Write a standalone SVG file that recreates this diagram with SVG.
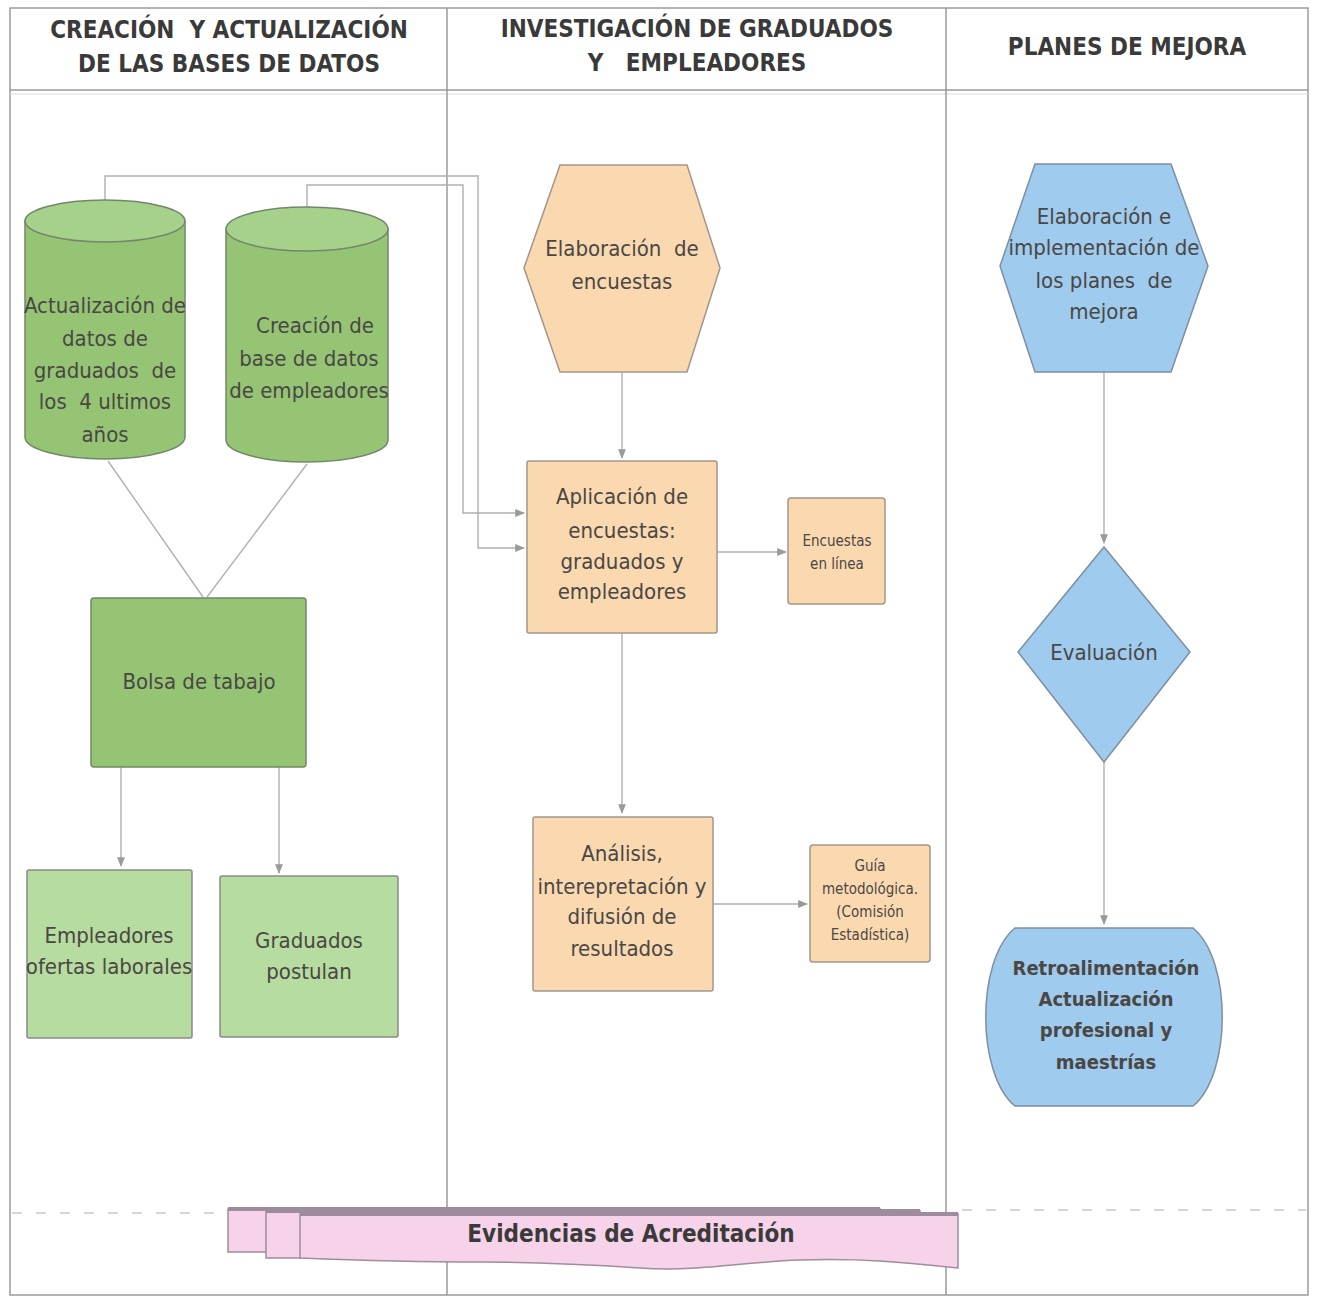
<svg xmlns="http://www.w3.org/2000/svg" width="1317" height="1298" viewBox="0 0 1317 1298">
<defs>
<style>
.t{font-family:"Liberation Sans Narrow","DejaVu Sans Condensed","Liberation Sans",sans-serif;fill:#4a4744;text-anchor:middle}
.h{font-size:24px;font-weight:bold;fill:#3a3a3a}
.n{font-size:22px}
.s{font-size:15px}
.b{font-weight:bold}
.frame{fill:none;stroke:#9a9a9a;stroke-width:1.5}
.c{fill:none;stroke:#b0b0b0;stroke-width:1.4}
.green{fill:#95c574;stroke:#74866a;stroke-width:1.5}
.gtop{fill:#a6d18a;stroke:#74866a;stroke-width:1.5}
.lgreen{fill:#b6dc9f;stroke:#8a8a8a;stroke-width:1.5}
.peach{fill:#fad9b1;stroke:#a2968a;stroke-width:1.5}
.blue{fill:#9fcbee;stroke:#7d8fa0;stroke-width:1.5}
.pink{fill:#f6d3e9;stroke:#a08c9c;stroke-width:1.5}
</style>
<marker id="ar" viewBox="0 0 10 10" refX="9" refY="5" markerWidth="7" markerHeight="7" orient="auto">
<path d="M0,1 L10,5 L0,9 Z" fill="#9a9a9a"/>
</marker>
</defs>
<rect width="1317" height="1298" fill="#ffffff"/>

<g id="frame">
<rect x="10" y="8" width="1298" height="1287" class="frame"/>
<line x1="10" y1="90" x2="1308" y2="90" class="frame"/>
<line x1="10" y1="94" x2="1308" y2="94" stroke="#dcdcdc" stroke-width="1"/>
<line x1="447" y1="8" x2="447" y2="1295" class="frame"/>
<line x1="946" y1="8" x2="946" y2="1295" class="frame"/>
<line x1="12" y1="1213" x2="228" y2="1213" stroke="#c8c8c8" stroke-width="1.5" stroke-dasharray="10 14"/>
<line x1="962" y1="1210" x2="1306" y2="1210" stroke="#c8c8c8" stroke-width="1.5" stroke-dasharray="10 14"/>
<text class="t h" x="229" y="38" xml:space="preserve">CREACIÓN  Y ACTUALIZACIÓN</text>
<text class="t h" x="229" y="72">DE LAS BASES DE DATOS</text>
<text class="t h" x="697" y="37">INVESTIGACIÓN DE GRADUADOS</text>
<text class="t h" x="697" y="71" xml:space="preserve">Y   EMPLEADORES</text>
<text class="t h" x="1127" y="55">PLANES DE MEJORA</text>
</g>

<g id="connectors">
<polyline class="c" points="105,200 105,176 478,176 478,548 524,548" marker-end="url(#ar)"/>
<polyline class="c" points="307,207 307,185 463,185 463,513 524,513" marker-end="url(#ar)"/>
<line class="c" x1="108" y1="461" x2="203" y2="597"/>
<line class="c" x1="307" y1="464" x2="207" y2="597"/>
<line class="c" x1="121" y1="767" x2="121" y2="866" marker-end="url(#ar)"/>
<line class="c" x1="279" y1="767" x2="279" y2="873" marker-end="url(#ar)"/>
<line class="c" x1="622" y1="372" x2="622" y2="458" marker-end="url(#ar)"/>
<line class="c" x1="717" y1="552" x2="786" y2="552" marker-end="url(#ar)"/>
<line class="c" x1="622" y1="633" x2="622" y2="813" marker-end="url(#ar)"/>
<line class="c" x1="713" y1="904" x2="807" y2="904" marker-end="url(#ar)"/>
<line class="c" x1="1104" y1="372" x2="1104" y2="543" marker-end="url(#ar)"/>
<line class="c" x1="1104" y1="762" x2="1104" y2="924" marker-end="url(#ar)"/>
</g>

<g id="cyl-graduados">
<path class="green" d="M25,221 V437 A80,22 0 0 0 185,437 V221 Z"/>
<ellipse class="gtop" cx="105" cy="221" rx="80" ry="21"/>
<text class="t n" x="105" y="313">Actualización de</text>
<text class="t n" x="105" y="346">datos de</text>
<text class="t n" x="105" y="378" xml:space="preserve">graduados  de</text>
<text class="t n" x="105" y="409" xml:space="preserve">los  4 ultimos</text>
<text class="t n" x="105" y="442">años</text>
</g>

<g id="cyl-empleadores">
<path class="green" d="M226,229 V440 A81,22 0 0 0 388,440 V229 Z"/>
<ellipse class="gtop" cx="307" cy="229" rx="81" ry="22"/>
<text class="t n" x="315" y="333">Creación de</text>
<text class="t n" x="309" y="366">base de datos</text>
<text class="t n" x="309" y="398">de empleadores</text>
</g>

<g id="bolsa">
<rect class="green" x="91" y="598" width="215" height="169" rx="3"/>
<text class="t n" x="199" y="689">Bolsa de tabajo</text>
</g>

<g id="empleadores-ofertas">
<rect class="lgreen" x="27" y="870" width="165" height="168" rx="2"/>
<text class="t n" x="109" y="943">Empleadores</text>
<text class="t n" x="109" y="974">ofertas laborales</text>
</g>

<g id="graduados-postulan">
<rect class="lgreen" x="220" y="876" width="178" height="161" rx="2"/>
<text class="t n" x="309" y="948">Graduados</text>
<text class="t n" x="309" y="979">postulan</text>
</g>

<g id="elaboracion-encuestas">
<polygon class="peach" points="560,165 687,165 720,268 687,372 560,372 524,268"/>
<text class="t n" x="622" y="256" xml:space="preserve">Elaboración  de</text>
<text class="t n" x="622" y="289">encuestas</text>
</g>

<g id="aplicacion">
<rect class="peach" x="527" y="461" width="190" height="172" rx="2"/>
<text class="t n" x="622" y="504">Aplicación de</text>
<text class="t n" x="622" y="538">encuestas:</text>
<text class="t n" x="622" y="569">graduados y</text>
<text class="t n" x="622" y="599">empleadores</text>
</g>

<g id="encuestas-linea">
<rect class="peach" x="788" y="498" width="97" height="106" rx="3"/>
<text class="t s" x="837" y="546">Encuestas</text>
<text class="t s" x="837" y="569">en línea</text>
</g>

<g id="analisis">
<rect class="peach" x="533" y="817" width="180" height="174" rx="2"/>
<text class="t n" x="622" y="861">Análisis,</text>
<text class="t n" x="622" y="894">interepretación y</text>
<text class="t n" x="622" y="924">difusión de</text>
<text class="t n" x="622" y="956">resultados</text>
</g>

<g id="guia">
<rect class="peach" x="810" y="845" width="120" height="117" rx="3"/>
<text class="t s" x="870" y="871">Guía</text>
<text class="t s" x="870" y="894">metodológica.</text>
<text class="t s" x="870" y="917">(Comisión</text>
<text class="t s" x="870" y="940">Estadística)</text>
</g>

<g id="planes-mejora">
<polygon class="blue" points="1035,164 1171,164 1208,266 1171,372 1035,372 1000,266"/>
<text class="t n" x="1104" y="224">Elaboración e</text>
<text class="t n" x="1104" y="255">implementación de</text>
<text class="t n" x="1104" y="288" xml:space="preserve">los planes  de</text>
<text class="t n" x="1104" y="319">mejora</text>
</g>

<g id="evaluacion">
<polygon class="blue" points="1104,547 1190,652 1104,762 1018,652"/>
<text class="t n" x="1104" y="660">Evaluación</text>
</g>

<g id="retroalimentacion">
<path class="blue" d="M1015,928 H1193 C1232,960 1232,1074 1193,1106 H1015 C976,1074 976,960 1015,928 Z"/>
<text class="t b" x="1106" y="975" style="font-size:20px">Retroalimentación</text>
<text class="t b" x="1106" y="1006" style="font-size:20px">Actualización</text>
<text class="t b" x="1106" y="1037" style="font-size:20px">profesional y</text>
<text class="t b" x="1106" y="1069" style="font-size:20px">maestrías</text>
</g>

<g id="evidencias">
<path class="pink" d="M228,1209 H880 V1252 H228 Z"/>
<path class="pink" d="M266,1211 H920 V1258 H266 Z"/>
<path class="pink" d="M300,1214 H958 V1268 C900,1262 860,1258 800,1260 C740,1262 700,1272 640,1268 C580,1264 540,1262 480,1262 C400,1262 350,1260 300,1258 Z"/>
<path d="M228,1209 H880 M266,1211 H920 M300,1214 H958" stroke="#9e8c9c" stroke-width="4" fill="none"/>
<text class="t b" x="631" y="1242" style="font-size:24px;fill:#3a3a3a">Evidencias de Acreditación</text>
</g>
</svg>
